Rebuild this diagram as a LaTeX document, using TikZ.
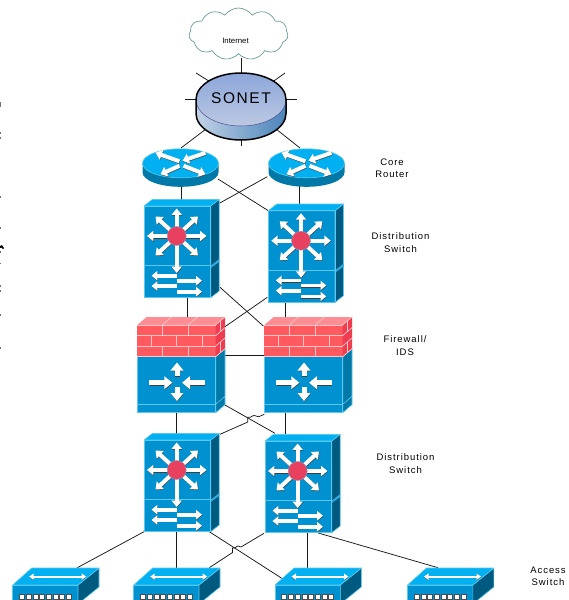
\documentclass[tikz,border=0pt]{standalone}
\usepackage{fontspec}
\setmainfont{Liberation Sans}
\usetikzlibrary{arrows.meta,shapes.symbols,shadings}
\definecolor{front}{HTML}{0092D0}
\definecolor{topc}{HTML}{00B0F0}
\definecolor{sidec}{HTML}{00597F}
\definecolor{rside}{HTML}{0079A8}
\definecolor{edge}{HTML}{5CC8F0}
\definecolor{brick}{HTML}{FF5A60}
\definecolor{brickt}{HTML}{FF8E94}
\definecolor{bricks}{HTML}{EE3C50}
\definecolor{joint}{HTML}{FFC4C4}
\definecolor{hub}{HTML}{E8405F}
\definecolor{sontop}{HTML}{8CA6DA}
\definecolor{sonbot}{HTML}{BCC9E2}
\definecolor{sonl}{HTML}{C2D2E6}
\definecolor{sonr}{HTML}{4A84BA}
\definecolor{cloudc}{HTML}{6C9A9E}
\tikzset{
  link/.style={line width=0.75pt,draw=black!90},
  devbox/.style={rectangle,inner sep=0pt,outer sep=0pt,draw=none},
  face/.style={line width=0.6pt,draw=edge,line join=round},
  lab/.style={font=\fontsize{9.5}{12.5}\selectfont\addfontfeature{LetterSpace=10},align=center,inner sep=0pt},
  warrow/.style={line width=#1,-{Triangle[length=1.6*#1,width=2.5*#1]}},
  speck/.style={fill=black!55,draw=none}
}
\newcommand{\wa}[3][4pt]{%
  \draw[warrow=#1,black!75,shift={(0.35,0.6)}] (#2) -- (#3);
  \draw[warrow=#1,white] (#2) -- (#3);}
\newcommand{\router}[3]{% name, cx, cy
  \node[devbox,minimum width=76pt,minimum height=37pt] (#1) at (#2,#3+4.5) {};
  \begin{scope}[shift={(#2,#3)}]
    \fill[rside] (-38,0) -- (-38,9) arc[start angle=180,end angle=360,x radius=38pt,y radius=14.5pt] -- (38,0) -- cycle;
    \fill[topc] (0,0) ellipse[x radius=38pt,y radius=14.5pt];
    \draw[edge,line width=0.6pt] (0,0) ellipse[x radius=38pt,y radius=14.5pt];
    \wa[4pt]{-1,-2}{-25,-10.5}
    \wa[4pt]{25,-10.5}{2,-2.5}
    \wa[4pt]{-1,2.5}{-20,11}
    \wa[4pt]{3,2.5}{25,11}
  \end{scope}}
\newcommand{\dswitch}[3]{% name, x, y of front top-left
  \node[devbox,minimum width=75pt,minimum height=98pt,anchor=south west] (#1) at (#2,#3+91.7) {};
  \begin{scope}[shift={(#2,#3)}]
    \fill[front] (0,0) rectangle (66.7,91.7);
    \draw[face,fill=sidec] (66.7,0) -- (75.2,-6.7) -- (75.2,85) -- (66.7,91.7) -- cycle;
    \draw[face,fill=topc] (0,0) -- (8.5,-6.7) -- (75.2,-6.7) -- (66.7,0) -- cycle;
    \fill[front!80!white] (66.7,59.7) -- (75.2,53) -- (75.2,56) -- (66.7,62) -- cycle;
    \draw[face] (0,0) rectangle (66.7,91.7);
    \draw[face] (0,59.7) -- (66.7,59.7);
    \wa{32.7,30}{32.7,2.5}
    \wa{32.7,30}{3,30}
    \wa{32.7,30}{62.5,30}
    \wa{32.7,30}{11.5,10.5}
    \wa{32.7,30}{54,10.5}
    \wa{32.7,30}{11.5,49.5}
    \wa{32.7,30}{54,49.5}
    \wa{32.7,30}{32.7,67}
    \draw[edge!60!hub,fill=hub,line width=0.4pt] (32.7,30) circle[radius=9.5pt];
    \wa[3.6pt]{32.7,69.7}{7.5,69.7}
    \wa[3.6pt]{32.7,80}{7.5,80}
    \wa[3.6pt]{32.7,74.7}{58,74.7}
    \wa[3.6pt]{32.7,85.7}{58,85.7}
  \end{scope}}
\newcommand{\firewall}[3]{% name, x, y of brick front top-left
  \node[devbox,minimum width=87.7pt,minimum height=96pt,anchor=south west] (#1) at (#2,#3+87.7) {};
  \begin{scope}[shift={(#2,#3)}]
    \fill[front] (0,31.7) rectangle (78.4,87.7);
    \draw[face,fill=rside] (78.4,31.7) -- (87.7,23.7) -- (87.7,79.7) -- (78.4,87.7) -- cycle;
    \draw[face] (78.4,79.3) -- (87.7,71.3);
    \draw[face] (0,31.7) rectangle (78.4,87.7);
    \draw[face] (0,79.3) -- (78.4,79.3);
    \fill[brick] (0,0) rectangle (78.4,31.7);
    \fill[bricks] (78.4,0) -- (87.7,-8) -- (87.7,23.7) -- (78.4,31.7) -- cycle;
    \fill[brickt] (0,0) -- (9.3,-8) -- (87.7,-8) -- (78.4,0) -- cycle;
    \begin{scope}[draw=joint,line width=0.7pt]
      \draw (0,0) -- (78.4,0) (0,10.6) -- (78.4,10.6) (0,21) -- (78.4,21) (0,31.7) -- (78.4,31.7);
      \draw (78.4,0) -- (87.7,-8) (78.4,10.6) -- (87.7,2.6) (78.4,21) -- (87.7,13) (78.4,31.7) -- (87.7,23.7);
      \draw (25,0) -- (25,10.6) (51,0) -- (51,10.6) (14,10.6) -- (14,21) (39,10.6) -- (39,21) (65,10.6) -- (65,21) (25,21) -- (25,31.7) (51,21) -- (51,31.7);
      \draw (83,-4) -- (83,6.6) (83,17) -- (83,27.7);
      \draw (25,0) -- (34,-8) (51,0) -- (60,-8);
    \end{scope}
    \wa[5pt]{12,57.7}{35,57.7}
    \wa[5pt]{67.7,57.7}{44.7,57.7}
    \wa[5pt]{39.7,51}{39.7,37.5}
    \wa[5pt]{39.7,62}{39.7,76}
  \end{scope}}
\newcommand{\access}[2]{% name, x of front left
  \node[devbox,minimum width=86pt,minimum height=32pt,anchor=south west] (#1) at (#2,600) {};
  \begin{scope}[shift={(#2,585)}]
    \fill[front] (0,0) rectangle (65.3,15);
    \draw[face] (0,0) -- (0,15) (65.3,0) -- (65.3,15) (0,0) -- (65.3,0);
    \draw[face,fill=sidec] (65.3,0) -- (86.3,-17) -- (86.3,2) -- (65.3,19) -- cycle;
    \draw[face,fill=topc] (0,0) -- (19,-17) -- (86.3,-17) -- (65.3,0) -- cycle;
    \draw[line width=2.2pt,black!60,{Triangle[length=4.5pt,width=6pt]}-{Triangle[length=4.5pt,width=6pt]}] (16.5,-7.8) -- (73.5,-7.8);
    \draw[line width=2.2pt,white,{Triangle[length=4.5pt,width=6pt]}-{Triangle[length=4.5pt,width=6pt]}] (16.5,-8.4) -- (73.5,-8.4);
    \foreach \k in {0,...,7}{
      \draw[fill=white,draw=black!70,line width=0.3pt] (6.6+\k*6.7,9.4) rectangle (11.6+\k*6.7,14.2);}
  \end{scope}}
\begin{document}
\begin{tikzpicture}[x=1pt,y=-1pt]
\useasboundingbox (0,0) rectangle (569,600);
\path[clip] (0,0) rectangle (569,600);
\fill[white] (0,0) rectangle (569,600);
% stray marks at the left edge
\foreach \yy/\hh in {102/5,132/2,137/2,196/2,227/2,251/1.5,263/1,285/2,290/2,314/1.5,347/2}{
  \fill[speck] (0,\yy) rectangle (1,\yy+\hh);}
\fill[black] (0,246) -- (2,245) -- (4,248) -- (3,249) -- (1.5,247.5) -- (0,248) -- cycle;
% connector ends
\coordinate (cloud-s) at (241.5,58);
\coordinate (sonet-n) at (241.5,75);
\coordinate (st1) at (196,73);   \coordinate (st1a) at (212,83);
\coordinate (st2) at (285,73);   \coordinate (st2a) at (271,83);
\coordinate (st3) at (185,99);   \coordinate (st3a) at (198,99);
\coordinate (st4) at (297,99);   \coordinate (st4a) at (284,99);
\coordinate (st5) at (241.5,146);\coordinate (st5a) at (241.5,138);
\coordinate (st6) at (181,148);  \coordinate (st6a) at (206,129);
\coordinate (st7) at (300,148);  \coordinate (st7a) at (276,129);
\coordinate (c1s) at (181,180);  \coordinate (c1r) at (218,179);
\coordinate (c2s) at (299.5,180);\coordinate (c2l) at (267.3,176.7);
\coordinate (d1n) at (181,201);  \coordinate (d1ne) at (219.3,203.3);
\coordinate (d2n) at (299.5,206);\coordinate (d2nw) at (268.3,210.7);
\coordinate (d1s) at (187.3,296);\coordinate (d1e) at (220,287.3);
\coordinate (d2s) at (285.7,300);\coordinate (d2w) at (267.3,297.3);
\coordinate (f1n) at (187.3,318);\coordinate (f1ne) at (225,326.7);
\coordinate (f2n) at (285.7,318);\coordinate (f2nw) at (263.3,326);
\coordinate (f1e) at (224,355.7);\coordinate (f2w) at (265,355.7);
\coordinate (f1s) at (176,412);  \coordinate (f1se) at (225,405);
\coordinate (f2s) at (285.7,412);\coordinate (f2sw) at (264.3,414.3);
\coordinate (d3n) at (176,434);  \coordinate (d3ne) at (220,434.3);
\coordinate (d4n) at (285.7,434);\coordinate (d4nw) at (275,433.3);
\coordinate (d3sw) at (144,531.7);\coordinate (d3s) at (176,531);\coordinate (d3se) at (209.3,531.7);
\coordinate (d4sw) at (264,533.3);\coordinate (d4s) at (307.7,532);\coordinate (d4se) at (318.3,533);
\coordinate (a1n) at (77.3,567.7);\coordinate (a2n) at (176,568);\coordinate (a2ne) at (209.3,567.7);
\coordinate (a3nw) at (286,581);\coordinate (a3n) at (307.7,568);\coordinate (a4n) at (438,567.7);
% connectors
\begin{scope}[link]
\draw (cloud-s) -- (sonet-n);
\draw (st1) -- (st1a); \draw (st2) -- (st2a); \draw (st3) -- (st3a); \draw (st4) -- (st4a);
\draw (st5) -- (st5a); \draw (st6) -- (st6a); \draw (st7) -- (st7a);
\draw (c1s) -- (d1n); \draw (c2s) -- (d2n);
\draw (c1r) -- (d2nw); \draw (c2l) -- (d1ne);
\draw (d1s) -- (f1n); \draw (d2s) -- (f2n);
\draw (d1e) -- (f2nw); \draw (d2w) -- (f1ne);
\draw (f1e) -- (f2w);
\draw (f1s) -- (d3n); \draw (f2s) -- (d4n);
\draw (f1se) -- (d4nw);
\draw (f2sw) -- (258.5,416.8) .. controls (256,415) and (253,415) .. (250.5,417.2) -- (247.8,417.2) -- (247.8,422) -- (d3ne);
\draw (d3sw) -- (a1n); \draw (d3s) -- (a2n); \draw (d3se) -- (a3nw);
\draw (d4sw) -- (241,547) .. controls (239,545.5) and (237,545.5) .. (235,548) -- (232.5,548) -- (232.5,552.5) -- (a2ne);
\draw (d4s) -- (a3n); \draw (d4se) -- (a4n);
\end{scope}
% cloud
\node[cloud,cloud puffs=11,cloud puff arc=110,aspect=1.9,draw=cloudc,fill=white,line width=0.7pt,minimum width=99pt,minimum height=52pt,inner sep=0pt] (cloud) at (238.5,34) {};
\node[font=\fontsize{7.8}{9}\selectfont,inner sep=0pt] (inet) at (235.5,41) {Internet};
% SONET
\shade[left color=sonl,right color=sonr] (196,99.5) -- (196,113.5) arc[start angle=180,end angle=360,x radius=45pt,y radius=26.5pt] -- (286,99.5) -- cycle;
\shade[top color=sontop,bottom color=sonbot] (241,99.5) ellipse[x radius=45pt,y radius=26.5pt];
\draw[line width=0.5pt,blue!40!black!70] (196,99.5) arc[start angle=180,end angle=360,x radius=45pt,y radius=26.5pt];
\draw[line width=1.5pt,line join=round] (196,113.5) arc[start angle=180,end angle=360,x radius=45pt,y radius=26.5pt] -- (286,99.5) arc[start angle=0,end angle=180,x radius=45pt,y radius=26.5pt] -- cycle;
\node[font=\fontsize{15.5}{18}\selectfont\addfontfeature{LetterSpace=10},inner sep=0pt] (sonet) at (241,98) {SONET};
% devices
\router{core1}{180.5}{163.3}
\router{core2}{306.5}{163.3}
\dswitch{ds1}{144}{206}
\dswitch{ds2}{268.3}{210.7}
\firewall{fw1}{137.3}{325}
\firewall{fw2}{264.3}{325}
\dswitch{ds3}{144}{440}
\dswitch{ds4}{265}{441}
\access{as1}{12.7}
\access{as2}{133.7}
\access{as3}{275}
\access{as4}{407.5}
% labels
\node[lab] (l1) at (392,168) {Core\\ Router};
\node[lab] (l2) at (400.5,242.5) {Distribution\\ Switch};
\node[lab] (l3) at (405,345.5) {Firewall/\\ IDS};
\node[lab] (l4) at (405.5,463.5) {Distribution\\ Switch};
\node[lab] (l5) at (548,576.5) {Access\\ Switch};
\end{tikzpicture}
\end{document}
